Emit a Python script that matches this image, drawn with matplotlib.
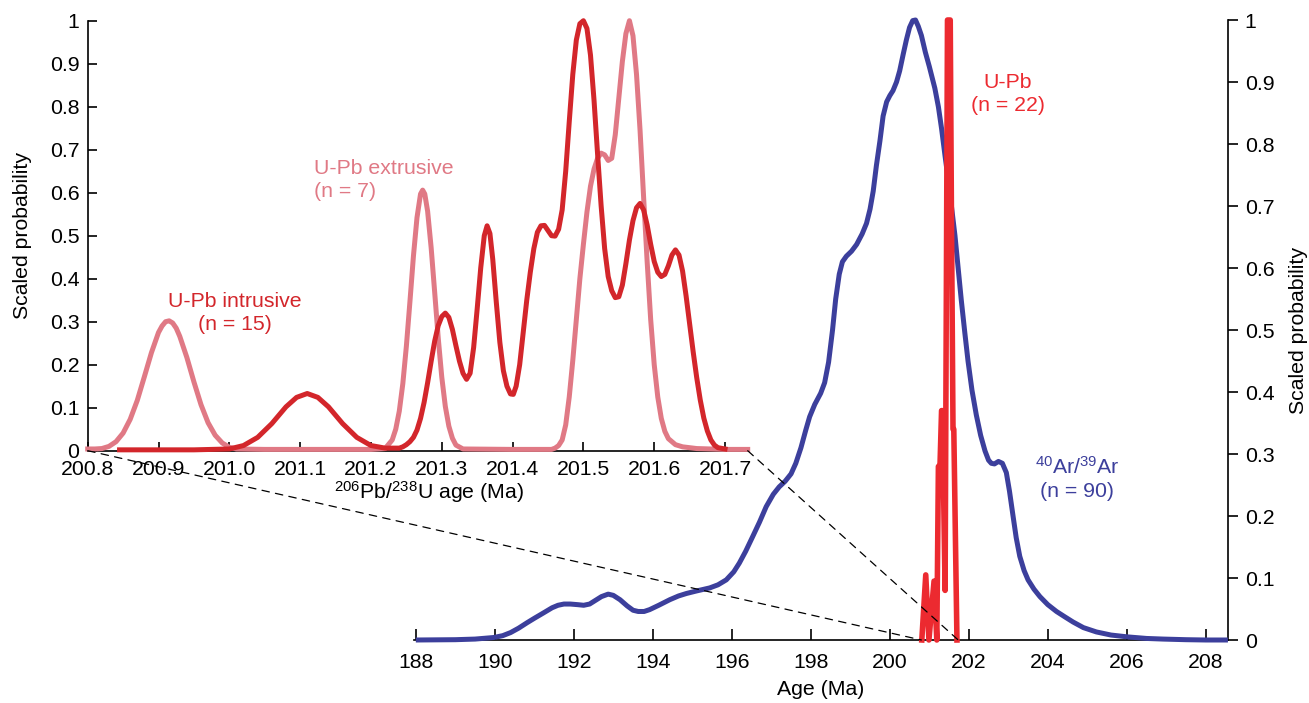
import numpy as np
import matplotlib
matplotlib.use("Agg")
import matplotlib.pyplot as plt
from matplotlib.patches import ConnectionPatch

plt.rcParams['font.family'] = ['Liberation Sans', 'DejaVu Sans']
plt.rcParams['mathtext.fontset'] = 'custom'
plt.rcParams['mathtext.rm'] = 'Liberation Sans'
plt.rcParams['mathtext.it'] = 'Liberation Sans:italic'
plt.rcParams['mathtext.bf'] = 'Liberation Sans:bold'

# 40Ar/39Ar probability curve (main axes)
ar_age = [188.0, 189.0, 189.5, 189.97, 190.2, 190.4, 190.6, 190.82, 191.0, 191.24,
          191.45, 191.6, 191.75, 191.91, 192.1, 192.25, 192.4, 192.55, 192.7, 192.87,
          193.0, 193.17, 193.35, 193.5, 193.63, 193.78, 193.92, 194.15, 194.43, 194.65,
          194.85, 195.1, 195.44, 195.65, 195.86, 196.05, 196.19, 196.35, 196.53, 196.7,
          196.87, 197.05, 197.2, 197.35, 197.5, 197.62, 197.75, 197.87, 197.97, 198.1,
          198.25, 198.35, 198.45, 198.55, 198.63, 198.72, 198.8, 198.9, 199.03, 199.16,
          199.3, 199.41, 199.5, 199.58, 199.66, 199.75, 199.83, 199.92, 200.0, 200.08,
          200.17, 200.25, 200.34, 200.42, 200.5, 200.58, 200.65, 200.72, 200.8, 200.9,
          201.0, 201.14, 201.23, 201.31, 201.4, 201.48, 201.56, 201.65, 201.73, 201.81,
          201.9, 201.98, 202.08, 202.19, 202.3, 202.41, 202.5, 202.57, 202.65, 202.75,
          202.85, 202.95, 203.03, 203.12, 203.2, 203.29, 203.4, 203.5, 203.65, 203.8,
          204.0, 204.22, 204.44, 204.64, 204.9, 205.23, 205.6, 206.02, 206.5, 206.92,
          207.5, 208.0, 208.56]
ar_prob = [0.0, 0.0005, 0.0015, 0.004, 0.007, 0.012, 0.019, 0.028, 0.035, 0.044,
           0.052, 0.056, 0.058, 0.058, 0.057, 0.056, 0.058, 0.064, 0.070, 0.074,
           0.072, 0.065, 0.055, 0.048, 0.046, 0.046, 0.049, 0.056, 0.065, 0.071,
           0.075, 0.079, 0.084, 0.089, 0.097, 0.110, 0.124, 0.143, 0.167, 0.190,
           0.215, 0.235, 0.247, 0.256, 0.268, 0.285, 0.310, 0.338, 0.360, 0.380,
           0.398, 0.415, 0.448, 0.500, 0.550, 0.590, 0.610, 0.619, 0.627, 0.638,
           0.655, 0.672, 0.695, 0.724, 0.765, 0.805, 0.845, 0.868, 0.878, 0.886,
           0.900, 0.918, 0.945, 0.968, 0.988, 0.999, 1.000, 0.990, 0.975, 0.948,
           0.925, 0.890, 0.860, 0.825, 0.780, 0.742, 0.700, 0.652, 0.600, 0.548,
           0.495, 0.450, 0.403, 0.363, 0.330, 0.305, 0.290, 0.285, 0.284, 0.288,
           0.285, 0.270, 0.240, 0.200, 0.165, 0.135, 0.112, 0.097, 0.082, 0.070,
           0.057, 0.046, 0.037, 0.029, 0.020, 0.013, 0.008, 0.005, 0.0025, 0.0015,
           0.0005, 0.0, 0.0]

# combined U-Pb curve (main axes)
upb_age = [200.81, 200.91, 200.99, 201.12, 201.19, 201.23, 201.27, 201.31, 201.33, 201.40,
           201.46, 201.53, 201.56, 201.60, 201.62, 201.70]
upb_prob = [0.0, 0.105, 0.0, 0.095, 0.0, 0.28, 0.28, 0.37, 0.37, 0.08,
            1.0, 1.0, 0.69, 0.34, 0.34, 0.0]

# U-Pb extrusive (inset)
ext_age = [200.800, 200.810, 200.820, 200.830, 200.840, 200.850, 200.860, 200.870, 200.880, 200.890,
           200.900, 200.905, 200.910, 200.915, 200.920, 200.925, 200.930, 200.940, 200.950, 200.960,
           200.970, 200.980, 200.990, 201.000, 201.010, 201.050, 201.100, 201.150, 201.200, 201.220,
           201.230, 201.235, 201.240, 201.245, 201.250, 201.255, 201.260, 201.265, 201.270, 201.273,
           201.276, 201.280, 201.285, 201.290, 201.295, 201.300, 201.305, 201.310, 201.315, 201.320,
           201.330, 201.400, 201.455, 201.460, 201.465, 201.470, 201.475, 201.480, 201.485, 201.490,
           201.495, 201.500, 201.505, 201.510, 201.515, 201.520, 201.525, 201.530, 201.535, 201.540,
           201.545, 201.550, 201.555, 201.560, 201.565, 201.570, 201.575, 201.580, 201.585, 201.590,
           201.595, 201.600, 201.605, 201.610, 201.615, 201.620, 201.630, 201.640, 201.660, 201.700,
           201.732]
ext_prob = [0.004, 0.004, 0.005, 0.010, 0.021, 0.041, 0.073, 0.117, 0.172, 0.228,
            0.275, 0.290, 0.300, 0.302, 0.297, 0.285, 0.266, 0.217, 0.160, 0.107,
            0.065, 0.036, 0.018, 0.008, 0.004, 0.003, 0.003, 0.003, 0.003, 0.005,
            0.025, 0.050, 0.092, 0.156, 0.243, 0.346, 0.453, 0.542, 0.597, 0.606,
            0.597, 0.557, 0.472, 0.368, 0.262, 0.171, 0.103, 0.057, 0.029, 0.013,
            0.004, 0.003, 0.003, 0.006, 0.012, 0.025, 0.060, 0.125, 0.210, 0.305,
            0.400, 0.480, 0.555, 0.615, 0.655, 0.680, 0.692, 0.688, 0.675, 0.680,
            0.735, 0.820, 0.905, 0.970, 1.000, 0.965, 0.875, 0.745, 0.590, 0.440,
            0.305, 0.200, 0.125, 0.075, 0.045, 0.028, 0.014, 0.009, 0.005, 0.003,
            0.003]

# U-Pb intrusive (inset)
int_age = [200.845, 200.950, 201.000, 201.020, 201.040, 201.060, 201.080, 201.095, 201.110, 201.125,
           201.140, 201.160, 201.180, 201.200, 201.220, 201.240, 201.245, 201.250, 201.255, 201.260,
           201.265, 201.270, 201.275, 201.280, 201.285, 201.290, 201.295, 201.300, 201.305, 201.310,
           201.315, 201.320, 201.325, 201.330, 201.335, 201.340, 201.345, 201.350, 201.355, 201.360,
           201.364, 201.368, 201.372, 201.377, 201.382, 201.387, 201.392, 201.397, 201.401, 201.405,
           201.410, 201.415, 201.420, 201.425, 201.430, 201.435, 201.440, 201.445, 201.450, 201.455,
           201.460, 201.465, 201.470, 201.475, 201.480, 201.485, 201.490, 201.495, 201.500, 201.505,
           201.510, 201.515, 201.520, 201.525, 201.530, 201.535, 201.540, 201.545, 201.550, 201.555,
           201.560, 201.565, 201.570, 201.575, 201.580, 201.585, 201.590, 201.595, 201.600, 201.605,
           201.610, 201.615, 201.620, 201.625, 201.630, 201.635, 201.640, 201.645, 201.650, 201.655,
           201.660, 201.665, 201.670, 201.675, 201.680, 201.685, 201.690, 201.700]
int_prob = [0.002, 0.002, 0.004, 0.012, 0.031, 0.063, 0.102, 0.124, 0.133, 0.124,
            0.102, 0.063, 0.031, 0.012, 0.006, 0.006, 0.009, 0.014, 0.021, 0.031,
            0.048, 0.075, 0.112, 0.158, 0.208, 0.255, 0.291, 0.312, 0.320, 0.310,
            0.282, 0.244, 0.208, 0.180, 0.166, 0.180, 0.240, 0.330, 0.425, 0.500,
            0.523, 0.505, 0.445, 0.345, 0.252, 0.186, 0.150, 0.132, 0.131, 0.150,
            0.200, 0.275, 0.350, 0.415, 0.470, 0.508, 0.523, 0.524, 0.512, 0.500,
            0.499, 0.515, 0.560, 0.650, 0.765, 0.875, 0.955, 0.993, 1.000, 0.982,
            0.920, 0.815, 0.690, 0.570, 0.470, 0.405, 0.372, 0.356, 0.358, 0.385,
            0.435, 0.490, 0.535, 0.565, 0.575, 0.560, 0.525, 0.480, 0.440, 0.415,
            0.405, 0.410, 0.430, 0.455, 0.467, 0.455, 0.418, 0.360, 0.295, 0.230,
            0.170, 0.118, 0.076, 0.046, 0.025, 0.013, 0.007, 0.004]

prob_ticks = [0, 0.1, 0.2, 0.3, 0.4, 0.5, 0.6, 0.7, 0.8, 0.9, 1.0]
prob_labels = ['0', '0.1', '0.2', '0.3', '0.4', '0.5', '0.6', '0.7', '0.8', '0.9', '1']
age_ticks = [188, 190, 192, 194, 196, 198, 200, 202, 204, 206, 208]
inset_ticks = [200.8, 200.9, 201.0, 201.1, 201.2, 201.3, 201.4, 201.5, 201.6, 201.7]
inset_labels = ['200.8', '200.9', '201.0', '201.1', '201.2', '201.3', '201.4', '201.5', '201.6', '201.7']

blue = '#3c3f9c'
red_main = '#ec2a30'
red_int = '#d3262b'
pink = '#e07985'
fs = 15.3

W, H = 1309, 703
fig = plt.figure(figsize=(W / 100, H / 100), dpi=100)

# main axes: age in Ma, probability on the right
ax = fig.add_axes([414 / W, 1 - 640 / H, (1228 - 414) / W, 620 / H])
ax.set_facecolor('none')
ax.plot(ar_age, ar_prob, color=blue, lw=3.6, clip_on=False, solid_capstyle='butt', zorder=3)
ax.plot(upb_age, upb_prob, color=red_main, lw=4.0, clip_on=False, zorder=4)
ax.set_xlim(187.954, 208.562)
ax.set_ylim(0, 1)
for s in ['top', 'left']:
    ax.spines[s].set_visible(False)
for s in ['bottom', 'right']:
    ax.spines[s].set_linewidth(1.2)
ax.yaxis.tick_right()
ax.yaxis.set_label_position('right')
ax.set_yticks(prob_ticks)
ax.set_yticklabels(prob_labels)
ax.set_xticks(age_ticks)
ax.set_xticklabels([str(t) for t in age_ticks])
ax.tick_params(axis='x', direction='in', length=8, width=1.2, pad=9, labelsize=fs)
ax.tick_params(axis='y', direction='out', length=7, width=1.2, pad=5, labelsize=fs)
ax.set_xlabel('Age (Ma)', fontsize=fs, va='center', ha='center')
ax.xaxis.set_label_coords(0.5, -0.0806)
ax.set_ylabel('Scaled probability', fontsize=fs, va='center', ha='center')
ax.yaxis.set_label_coords(1.086, 0.5)

ax.text(202.99, 0.881, 'U-Pb\n(n = 22)', color=red_main, fontsize=fs,
        ha='center', va='center', linespacing=1.25)
ax.text(204.74, 0.261, '$^{\\mathrm{40}}$Ar/$^{\\mathrm{39}}$Ar\n(n = 90)', color=blue,
        fontsize=fs, ha='center', va='center', linespacing=1.25)

# inset: zoom on the U-Pb ages
ins = fig.add_axes([87.7 / W, 1 - 450.7 / H, 660 / W, 430 / H])
ins.set_facecolor('none')
ins.plot(ext_age, ext_prob, color=pink, lw=3.6, clip_on=False, zorder=3)
ins.plot(int_age, int_prob, color=red_int, lw=3.6, clip_on=False, zorder=4)
ins.set_xlim(200.8, 201.732)
ins.set_ylim(0, 1)
for s in ['top', 'right']:
    ins.spines[s].set_visible(False)
for s in ['bottom', 'left']:
    ins.spines[s].set_linewidth(1.2)
ins.set_xticks(inset_ticks)
ins.set_xticklabels(inset_labels)
ins.set_yticks(prob_ticks)
ins.set_yticklabels(prob_labels)
ins.tick_params(axis='both', direction='in', length=6.5, width=1.2, labelsize=fs)
ins.tick_params(axis='x', pad=7)
ins.tick_params(axis='y', pad=6)
ins.set_xlabel('$^{\\mathrm{206}}$Pb/$^{\\mathrm{238}}$U age (Ma)', fontsize=fs,
               va='center', ha='center')
ins.xaxis.set_label_coords(0.517, -0.096)
ins.set_ylabel('Scaled probability', fontsize=fs, va='center', ha='center')
ins.yaxis.set_label_coords(-0.0995, 0.5)

ins.text(201.008, 0.32, 'U-Pb intrusive\n(n = 15)', color=red_int, fontsize=fs,
         ha='center', va='center', linespacing=1.25)
ins.text(201.12, 0.63, 'U-Pb extrusive\n(n = 7)', color=pink, fontsize=fs,
         ha='left', va='center', linespacing=1.25)

# dashed guides from the inset range down to the main axis
for x0 in (200.8, 201.732):
    con = ConnectionPatch(xyA=(x0, 0), coordsA=ins.transData,
                          xyB=(x0, 0), coordsB=ax.transData,
                          color='black', lw=0.9, ls=(0, (6, 5)))
    fig.add_artist(con)

fig.savefig('out.png', dpi=100)
